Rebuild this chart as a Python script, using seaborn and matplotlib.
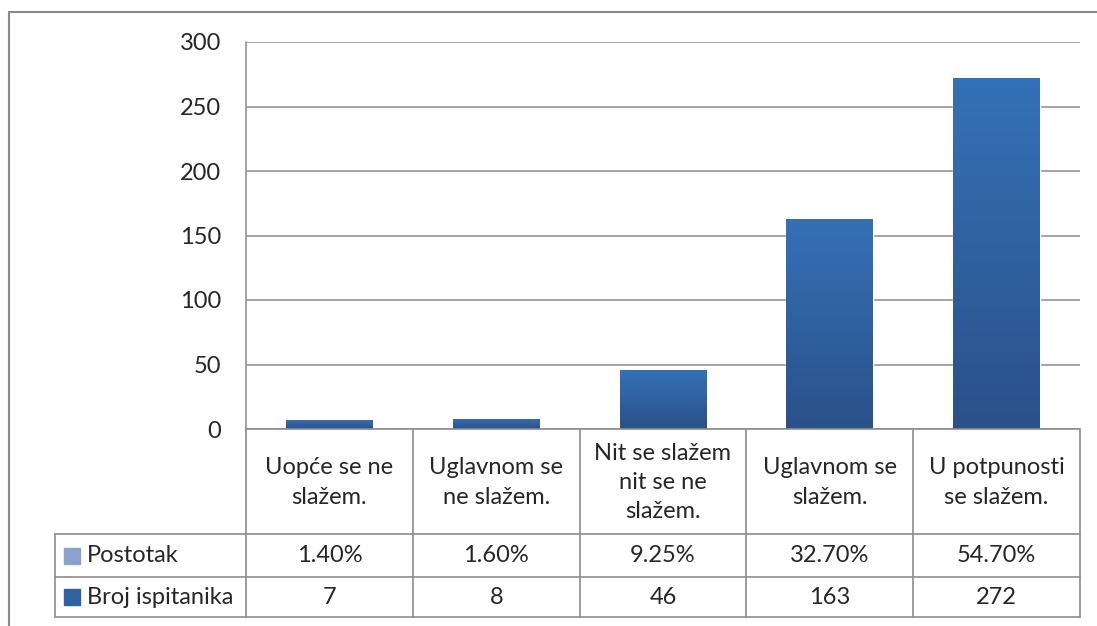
import numpy as np
import pandas as pd
import matplotlib
matplotlib.use("Agg")
import matplotlib.pyplot as plt
from matplotlib.lines import Line2D
from matplotlib.patches import Rectangle
from matplotlib.colors import LinearSegmentedColormap
import seaborn as sns

categories = ["Uopće se ne\nslažem.", "Uglavnom se\nne slažem.", "Nit se slažem\nnit se ne\nslažem.",
              "Uglavnom se\nslažem.", "U potpunosti\nse slažem."]
broj = [7, 8, 46, 163, 272]
postotak = [1.40, 1.60, 9.25, 32.70, 54.70]
postotak_labels = ["1.40%", "1.60%", "9.25%", "32.70%", "54.70%"]
series_names = ["Postotak", "Broj ispitanika"]
yticks = [0, 50, 100, 150, 200, 250, 300]

sns.set_style("white")
plt.rcParams["font.family"] = ["Lato", "DejaVu Sans"]
FS = 17

W, H = 1097, 626
fig = plt.figure(figsize=(W / 100, H / 100), dpi=100)

def fx(px):
    return px / W

def fy(py):
    return 1 - py / H

left, right, top, bottom = 246, 1080, 42, 429
ax = fig.add_axes([fx(left), fy(bottom), fx(right - left), (bottom - top) / H])

df = pd.DataFrame({"cat": categories, "broj": broj})
sns.barplot(data=df, x="cat", y="broj", color="#2f62a3", width=0.52, ax=ax, zorder=3)

# Postotak is stored as fractions, stacked on top (practically invisible)
pct = np.array(postotak) / 100
ax.bar(range(len(categories)), pct, bottom=broj, width=0.52, color="#7f99c8", zorder=3)

# vertical gradient inside the bars
cmap = LinearSegmentedColormap.from_list("bar", ["#3571b7", "#2a5189"])
grad = np.linspace(0, 1, 256).reshape(-1, 1)
for p in list(ax.patches)[:len(categories)]:
    x0, y0 = p.get_x(), p.get_y()
    w, h = p.get_width(), p.get_height()
    im = ax.imshow(grad, cmap=cmap, aspect="auto", extent=[x0, x0 + w, y0, y0 + h],
                   origin="upper", zorder=4)
    im.set_clip_path(p)

ax.set_xlim(-0.5, len(categories) - 0.5)
ax.set_ylim(0, 300)
ax.set_yticks(yticks)
ax.set_yticklabels([str(v) for v in yticks], fontsize=FS)
ax.tick_params(axis="y", length=0, pad=18)
ax.set_xticks([])
ax.set_xlabel("")
ax.set_ylabel("")
ax.grid(axis="y", color="#8c8c8c", linewidth=1.1, zorder=0)
for s in ["top", "right", "bottom"]:
    ax.spines[s].set_visible(False)
ax.spines["left"].set_color("#8c8c8c")
ax.spines["left"].set_linewidth(1.1)

# data table under the chart
lc = "#8c8c8c"
lw = 1.2
ncat = len(categories)
cw = (right - left) / ncat
col_x = [left + i * cw for i in range(ncat + 1)]
leg_left = 55
row_y = [429, 534, 577, 617]

def hline(x0, x1, y):
    fig.add_artist(Line2D([fx(x0), fx(x1)], [fy(y), fy(y)], color=lc, lw=lw))

def vline(x, y0, y1):
    fig.add_artist(Line2D([fx(x), fx(x)], [fy(y0), fy(y1)], color=lc, lw=lw))

hline(left, right, row_y[0])
for y in row_y[1:]:
    hline(leg_left, right, y)
for x in col_x:
    vline(x, row_y[0], row_y[3])
vline(leg_left, row_y[1], row_y[3])

for i, c in enumerate(categories):
    cx = fx(col_x[i] + cw / 2)
    fig.text(cx, fy((row_y[0] + row_y[1]) / 2 + 1), c, ha="center", va="center",
             fontsize=FS, linespacing=1.5)
    fig.text(cx, fy((row_y[1] + row_y[2]) / 2), postotak_labels[i], ha="center",
             va="center", fontsize=FS)
    fig.text(cx, fy((row_y[2] + row_y[3]) / 2), str(broj[i]), ha="center",
             va="center", fontsize=FS)

leg_colors = ["#8aa3cc", "#2f62a3"]
for r, (name, col) in enumerate(zip(series_names, leg_colors)):
    yc = (row_y[r + 1] + row_y[r + 2]) / 2
    fig.add_artist(Rectangle((fx(64), fy(yc + 8)), 16 / W, 16 / H, color=col,
                             transform=fig.transFigure))
    fig.text(fx(87), fy(yc), name, ha="left", va="center", fontsize=FS)

# outer chart frame (cut off at right/bottom)
fig.add_artist(Line2D([fx(9), 1], [fy(12), fy(12)], color="#8a8a8a", lw=1.5))
fig.add_artist(Line2D([fx(9), fx(9)], [fy(12), 0], color="#8a8a8a", lw=1.5))

fig.savefig("out.png", dpi=100)
